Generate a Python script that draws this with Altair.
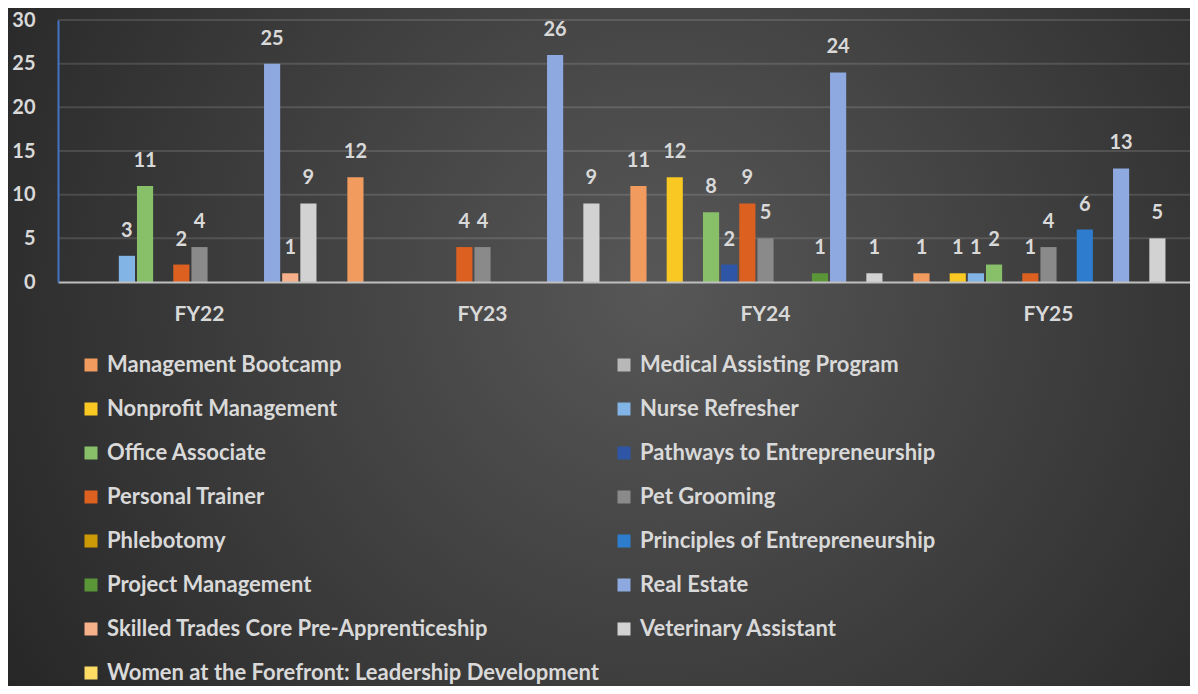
import altair as alt
import pandas as pd

years = ["FY22", "FY23", "FY24", "FY25"]
programs = [
    "Management Bootcamp", "Medical Assisting Program", "Nonprofit Management",
    "Nurse Refresher", "Office Associate", "Pathways to Entrepreneurship",
    "Personal Trainer", "Pet Grooming", "Phlebotomy",
    "Principles of Entrepreneurship", "Project Management", "Real Estate",
    "Skilled Trades Core Pre-Apprenticeship", "Veterinary Assistant",
    "Women at the Forefront: Leadership Development",
]
colors = [
    "#f29b5f", "#b8b8b8", "#f9c823", "#82b4e6", "#88c06a", "#2f56a6",
    "#dc6020", "#8a8a8a", "#cc9a06", "#2d7cce", "#5a9538", "#8ea8e0",
    "#f6b08a", "#d2d2d2", "#fddc66",
]

management_bootcamp = [None, 12, 11, 1]
medical_assisting = [None, None, None, None]
nonprofit_management = [None, None, 12, 1]
nurse_refresher = [3, None, None, 1]
office_associate = [11, None, 8, 2]
pathways_entrepreneurship = [None, None, 2, None]
personal_trainer = [2, 4, 9, 1]
pet_grooming = [4, 4, 5, 4]
phlebotomy = [None, None, None, None]
principles_entrepreneurship = [None, None, None, 6]
project_management = [None, None, 1, None]
real_estate = [25, 26, 24, 13]
skilled_trades = [1, None, None, None]
veterinary_assistant = [9, 9, 1, 5]
women_forefront = [None, None, None, None]

y_ticks = [0, 5, 10, 15, 20, 25, 30]

series = [
    management_bootcamp, medical_assisting, nonprofit_management, nurse_refresher,
    office_associate, pathways_entrepreneurship, personal_trainer, pet_grooming,
    phlebotomy, principles_entrepreneurship, project_management, real_estate,
    skilled_trades, veterinary_assistant, women_forefront,
]

rows = []
for p, vals in zip(programs, series):
    for yr, v in zip(years, vals):
        if v is not None:
            rows.append({"year": yr, "program": p, "value": v})
df = pd.DataFrame(rows)

W, H = 1132, 262
PL, PT, PB = 50, 12, 404
FONT = "Lato"
TXT = "#d9d9d9"

x_scale = alt.Scale(domain=years, paddingInner=0.045, paddingOuter=0.0225)
xo_scale = alt.Scale(domain=programs, paddingInner=0.11, paddingOuter=0)
y_scale = alt.Scale(domain=[0, 30], nice=False)

x_axis = alt.Axis(
    title=None, ticks=False, tickSize=0, domainColor="#bfbfbf", domainWidth=2,
    labelAngle=0, labelColor=TXT, labelFont=FONT, labelFontSize=21,
    labelFontWeight="bold", labelPadding=21, zindex=1, grid=False)
y_axis = alt.Axis(
    title=None, values=y_ticks, grid=False, ticks=False, tickSize=0,
    domainColor="#4472c4", domainWidth=2, labelColor=TXT, labelFont=FONT,
    labelFontSize=20, labelFontWeight="bold", labelPadding=23, zindex=1)

gradient = {
    "gradient": "radial",
    "x1": 0.55, "y1": 0.45, "x2": 0.55, "y2": 0.45,
    "r1": 0, "r2": 0.75,
    "stops": [
        {"offset": 0, "color": "#575757"},
        {"offset": 1, "color": "#1f1f1f"},
    ],
}

bg = alt.Chart(pd.DataFrame({"a": [0]})).mark_rect(fill=gradient, stroke=None).encode(
    x=alt.value(-PL), x2=alt.value(W), y=alt.value(-PT), y2=alt.value(H + PB)
)

grid = alt.Chart(pd.DataFrame({"value": y_ticks[1:]})).mark_rule(
    color="white", opacity=0.13, strokeWidth=2
).encode(y=alt.Y("value:Q", scale=y_scale, axis=y_axis))

bars = alt.Chart(df).mark_bar().encode(
    x=alt.X("year:N", scale=x_scale, sort=years, axis=x_axis),
    xOffset=alt.XOffset("program:N", scale=xo_scale),
    y=alt.Y("value:Q", scale=y_scale, axis=y_axis),
    color=alt.Color("program:N", scale=alt.Scale(domain=programs, range=colors),
        legend=alt.Legend(
            orient="none", legendX=22, legendY=334, columns=2, direction="horizontal",
            columnPadding=14, rowPadding=22, symbolType="square", symbolSize=169,
            symbolStrokeWidth=0, symbolOpacity=1, labelFont=FONT, labelFontSize=22,
            labelFontWeight="bold", labelColor=TXT, labelOffset=5, labelLimit=700,
            title=None, padding=0)),
)

labels = alt.Chart(df).mark_text(
    font=FONT, fontSize=20, fontWeight="bold", color=TXT, baseline="middle", dy=-25
).encode(
    x=alt.X("year:N", scale=x_scale, sort=years, axis=x_axis),
    xOffset=alt.XOffset("program:N", scale=xo_scale),
    y=alt.Y("value:Q", scale=y_scale, axis=y_axis),
    text=alt.Text("value:Q"),
)

chart = alt.layer(bg, grid, bars, labels).properties(
    width=W, height=H,
    autosize=alt.AutoSizeParams(type="none"),
    padding={"left": PL, "top": PT, "right": 0, "bottom": PB},
    background="#2b2b2b",
).configure_view(stroke=None)

chart.save("out.html", embed_options={"renderer": "svg", "actions": False})
